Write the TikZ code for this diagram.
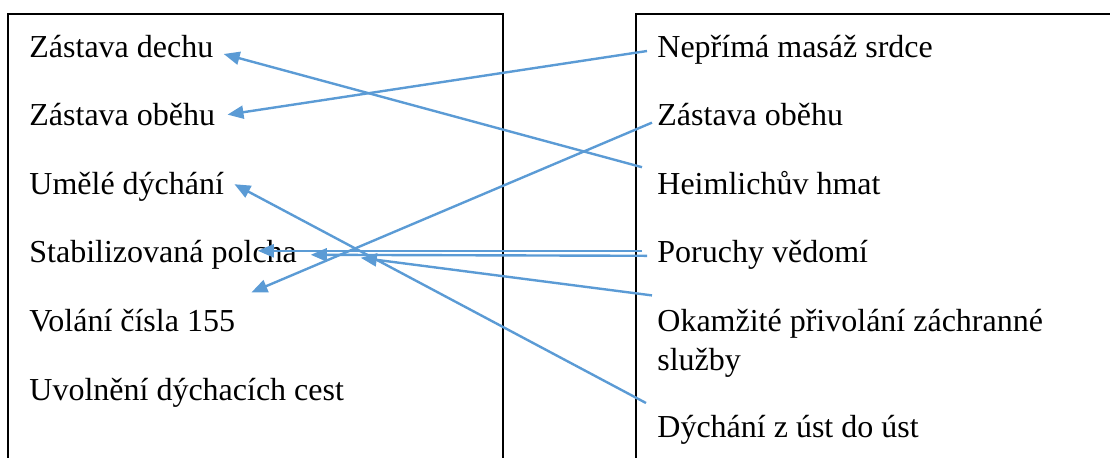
\documentclass[tikz,border=0pt]{standalone}
\usepackage{fontspec}
\setmainfont{Liberation Serif}
\usetikzlibrary{arrows.meta}
\definecolor{linkblue}{HTML}{5B9BD5}

\begin{document}
\begin{tikzpicture}[x=0.5pt,y=-0.5pt]
	\tikzset{
	  ItemStyle/.style = { anchor = base west, inner sep = 0pt,
	                       font = \fontsize{16}{19.5}\selectfont },
	  FrameStyle/.style = { draw, line width = 0.7pt },
	  LinkStyle/.style = { draw = linkblue, line width = 1.2pt,
	                       -{Triangle[length=8pt,width=6.5pt]} } }
	\useasboundingbox (0,0) rectangle (1110,457);
	\clip (0,0) rectangle (1110,457);
%	\draw[help lines, step=50] (0,0) grid (1110,457);
	\draw[FrameStyle] (8,14) rectangle (503,490);
	\draw[FrameStyle] (636,14) rectangle (1140,490);
	% left column
	\node[ItemStyle] (l1) at (29,57)    {Zástava dechu};
	\node[ItemStyle] (l2) at (29,125.6) {Zástava oběhu};
	\node[ItemStyle] (l3) at (29,194.2) {Umělé dýchání};
	\node[ItemStyle] (l4) at (29,262.8) {Stabilizovaná polcha};
	\node[ItemStyle] (l5) at (29,331.4) {Volání čísla 155};
	\node[ItemStyle] (l6) at (29,400)   {Uvolnění dýchacích cest};
	% right column (base of r5 is its last line)
	\node[ItemStyle] (r1) at (657,57)    {Nepřímá masáž srdce};
	\node[ItemStyle] (r2) at (657,125.6) {Zástava oběhu};
	\node[ItemStyle] (r3) at (657,194.2) {Heimlichův hmat};
	\node[ItemStyle] (r4) at (657,262.8) {Poruchy vědomí};
	\node[ItemStyle, align = left] (r5) at (657,370.4)
	  {Okamžité přivolání záchranné\\služby};
	\node[ItemStyle] (r6) at (657,437)   {Dýchání z úst do úst};
	\draw[LinkStyle] ([shift={(-15,-27)}]r3.base west) -- ([shift={(10,-3)}]l1.base east);
	\draw[LinkStyle] ([shift={(-10,-6)}]r1.base west) -- ([shift={(12,-11)}]l2.base east);
	\draw[LinkStyle] ([shift={(-5,-3)}]r2.base west) -- ([shift={(16,-39)}]l5.base east);
	\draw[LinkStyle] ([shift={(-11,-34)}]r6.base west) -- ([shift={(10,-10)}]l3.base east);
	\draw[LinkStyle] ([shift={(-15,-12)}]r4.base west) -- ([shift={(-39.5,-12)}]l4.base east);
	\draw[LinkStyle] ([shift={(-10,-7)}]r4.base west) -- ([shift={(13.5,-8)}]l4.base east);
	\draw[LinkStyle] ([shift={(-5,-75)}]r5.base west) -- ([shift={(63.5,-5)}]l4.base east);
\end{tikzpicture}
\end{document}
